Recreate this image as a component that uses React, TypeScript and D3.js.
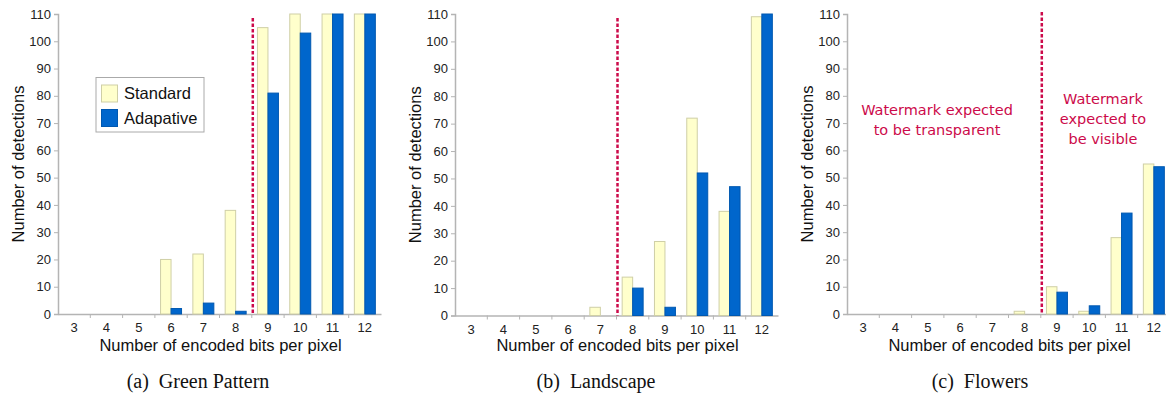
import React, { useEffect, useRef } from 'react';
import * as d3 from 'd3';

const categories = ['3', '4', '5', '6', '7', '8', '9', '10', '11', '12'];
const seriesNames = ['Standard', 'Adapative'];
const yTicks = [0, 10, 20, 30, 40, 50, 60, 70, 80, 90, 100, 110];

const greenStandard = [0, 0, 0, 20, 22, 38, 105, 110, 110, 110];
const greenAdaptive = [0, 0, 0, 2, 4, 1, 81, 103, 110, 110];
const landscapeStandard = [0, 0, 0, 0, 3, 14, 27, 72, 38, 109];
const landscapeAdaptive = [0, 0, 0, 0, 0, 10, 3, 52, 47, 110];
const flowersStandard = [0, 0, 0, 0, 0, 1, 10, 1, 28, 55];
const flowersAdaptive = [0, 0, 0, 0, 0, 0, 8, 3, 37, 54];

const captions = ['(a)  Green Pattern', '(b)  Landscape', '(c)  Flowers'];
const dividerBefore = ['9', '8', '9'];

const panels = [
  { left: 58, bottom: 314, dashTop: 18, capX: 198, std: greenStandard, ada: greenAdaptive },
  { left: 455, bottom: 315.5, dashTop: 18, capX: 596, std: landscapeStandard, ada: landscapeAdaptive },
  { left: 847, bottom: 314, dashTop: 12, capX: 980, std: flowersStandard, ada: flowersAdaptive },
];

const W = 1166;
const H = 398;
const plotW = 323;
const top = 14;
const sans = "'Liberation Sans', Arial, sans-serif";
const colors = ['#ffffcc', '#0066cc'];
const strokes = ['#cfcfa6', '#0058b0'];
const red = '#cc0a4a';

function App() {
  const svgRef = useRef(null);

  useEffect(() => {
    const svg = d3.select(svgRef.current);
    svg.selectAll('*').remove();

    panels.forEach((p, pi) => {
      const g = svg.append('g');
      const x = d3.scaleBand().domain(categories).range([p.left, p.left + plotW]).padding(0);
      const sub = d3.scaleBand().domain(seriesNames).range([0, x.bandwidth()]).paddingInner(0).paddingOuter(0.54);
      const y = d3.scaleLinear().domain([0, 110]).range([p.bottom, top]);

      // axes first, so the zero-height bars show as thin lines over them
      const yAxis = g.append('g').attr('transform', `translate(${p.left},0)`)
        .call(d3.axisLeft(y).tickValues(yTicks).tickSize(4).tickPadding(3));
      yAxis.select('.domain').attr('stroke', '#b4b4b4').attr('stroke-width', 1.5);
      yAxis.selectAll('line').attr('stroke', '#b4b4b4');
      yAxis.selectAll('text').attr('fill', '#222').style('font-family', sans).style('font-size', '13px');

      const xAxis = g.append('g').attr('transform', `translate(0,${p.bottom})`)
        .call(d3.axisBottom(x).tickSize(0).tickPadding(9));
      xAxis.select('.domain').attr('stroke', '#b4b4b4').attr('stroke-width', 1.5);
      xAxis.selectAll('text').attr('fill', '#222').style('font-family', sans).style('font-size', '13px');
      g.selectAll(null)
        .data(categories.slice(1))
        .enter()
        .append('line')
        .attr('x1', (c) => x(c))
        .attr('x2', (c) => x(c))
        .attr('y1', p.bottom)
        .attr('y2', p.bottom + 4)
        .attr('stroke', '#b4b4b4');

      // bars
      const vals = [p.std, p.ada];
      seriesNames.forEach((s, si) => {
        g.selectAll(null)
          .data(categories)
          .enter()
          .append('rect')
          .attr('x', (c) => x(c) + sub(s))
          .attr('y', (c, i) => y(vals[si][i]))
          .attr('width', sub.bandwidth())
          .attr('height', (c, i) => p.bottom - y(vals[si][i]))
          .attr('fill', colors[si])
          .attr('stroke', strokes[si])
          .attr('stroke-opacity', (c, i) => (vals[si][i] === 0 ? 0.5 : 1))
          .attr('stroke-width', 1);
      });

      // divider
      const dx = x(dividerBefore[pi]) + 1;
      g.append('line')
        .attr('x1', dx).attr('x2', dx)
        .attr('y1', p.dashTop).attr('y2', p.bottom)
        .attr('stroke', red)
        .attr('stroke-width', 2.5)
        .attr('stroke-dasharray', '3.5,2');

      // titles
      g.append('text')
        .attr('transform', `translate(${p.left - 34},${(top + p.bottom) / 2}) rotate(-90)`)
        .attr('text-anchor', 'middle')
        .style('font-family', sans)
        .style('font-size', '16.5px')
        .attr('fill', '#111')
        .text('Number of detections');
      g.append('text')
        .attr('x', p.left + plotW / 2 + 1)
        .attr('y', 351)
        .attr('text-anchor', 'middle')
        .style('font-family', sans)
        .style('font-size', '16.5px')
        .attr('fill', '#111')
        .text('Number of encoded bits per pixel');
      g.append('text')
        .attr('x', p.capX)
        .attr('y', 388)
        .attr('text-anchor', 'middle')
        .style('font-family', "'Liberation Serif', 'Times New Roman', serif")
        .style('font-size', '20px')
        .style('white-space', 'pre')
        .attr('fill', '#111')
        .text(captions[pi]);
    });

    // legend in first panel
    const lg = svg.append('g');
    lg.append('rect').attr('x', 96).attr('y', 77.5).attr('width', 108).attr('height', 54.5)
      .attr('fill', '#fff').attr('stroke', '#aaa');
    seriesNames.forEach((s, i) => {
      lg.append('rect').attr('x', 101.5).attr('y', 85 + i * 24.5).attr('width', 16).attr('height', 17)
        .attr('fill', colors[i]).attr('stroke', strokes[i]);
      lg.append('text').attr('x', 124).attr('y', 99 + i * 24.5)
        .style('font-family', sans).style('font-size', '16.5px').attr('fill', '#111')
        .text(s);
    });

    // annotations in third panel
    const ann = svg.append('g')
      .attr('fill', red)
      .style('font-family', "'DejaVu Sans', Verdana, sans-serif")
      .style('font-size', '14.5px')
      .attr('text-anchor', 'middle');
    ['Watermark expected', 'to be transparent'].forEach((t, i) => {
      ann.append('text').attr('x', 937).attr('y', 115 + i * 20).text(t);
    });
    ['Watermark', 'expected to', 'be visible'].forEach((t, i) => {
      ann.append('text').attr('x', 1103).attr('y', 104 + i * 20).text(t);
    });
  }, []);

  return (
    <svg ref={svgRef} width={W} height={H}
      style={{ position: 'absolute', left: 0, top: 0, background: '#fff' }} />
  );
}

export default App;
